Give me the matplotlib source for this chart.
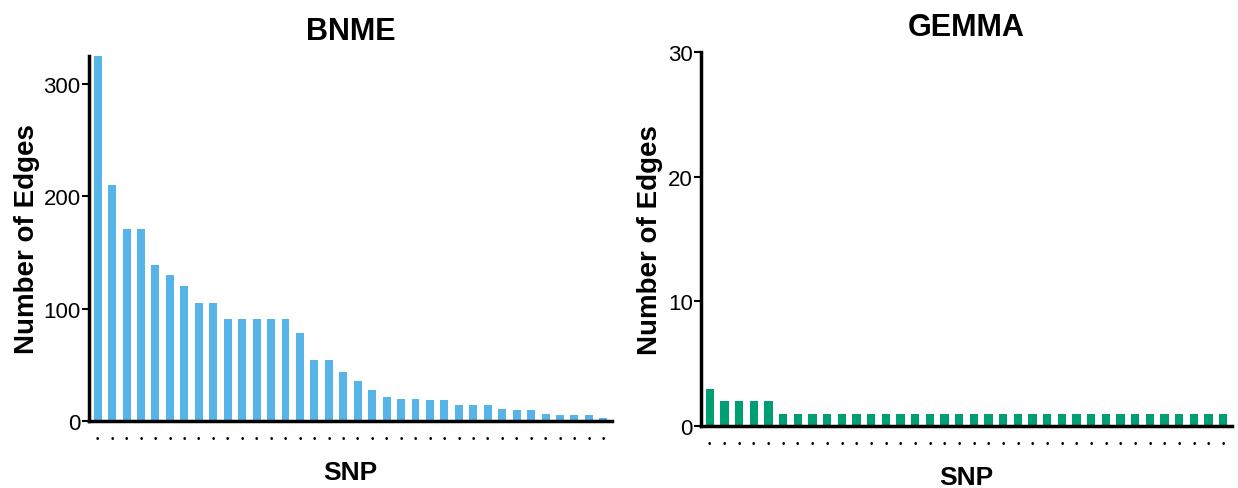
import matplotlib.pyplot as plt
import numpy as np

plt.rcParams['font.family'] = ['Liberation Sans', 'DejaVu Sans']

bnme_edges = [325, 210, 171, 171, 139, 130, 120, 105, 105, 91, 91, 91, 91, 91,
              78, 54, 54, 44, 36, 28, 21, 20, 20, 19, 19, 14, 14, 14, 11, 10,
              10, 6, 5, 5, 5, 3]
gemma_edges = [3, 2, 2, 2, 2] + [1] * 31

blue = "#56B4E9"
green = "#009E73"

fig = plt.figure(figsize=(12.38, 4.89), dpi=100)
ax1 = fig.add_axes([89 / 1238, 1 - 422 / 489, (612 - 89) / 1238, (422 - 57) / 489])
ax2 = fig.add_axes([701 / 1238, 1 - 427 / 489, (1232 - 701) / 1238, (427 - 53) / 489])


def style(ax, vals, color, title, ylim, yticks, dot_pad):
    x = np.arange(len(vals))
    ax.bar(x, vals, width=0.55, color=color)
    ax.set_xlim(-0.6, len(vals) - 0.4)
    ax.set_ylim(*ylim)
    ax.set_yticks(yticks)
    ax.set_xticks(x)
    ax.set_xticklabels(["\u2022"] * len(vals), fontsize=7)
    ax.tick_params(axis="x", length=0, pad=dot_pad)
    ax.tick_params(axis="y", length=5, width=1.5, labelsize=16, pad=1)
    for s in ["top", "right"]:
        ax.spines[s].set_visible(False)
    for s in ["left", "bottom"]:
        ax.spines[s].set_linewidth(2.5)
    ax.set_title(title, fontsize=22, fontweight="bold", pad=12)
    ax.set_xlabel("SNP", fontsize=19, fontweight="bold", labelpad=12)
    ax.set_ylabel("Number of Edges", fontsize=20, fontweight="bold")


style(ax1, bnme_edges, blue, "BNME", (0, 325), [0, 100, 200, 300], 9)
style(ax2, gemma_edges, green, "GEMMA", (0, 30), [0, 10, 20, 30], 9)
ax1.yaxis.set_label_coords(-0.094, 0.5)
ax2.yaxis.set_label_coords(-0.0716, 0.5)

fig.savefig("out.png", dpi=100)
